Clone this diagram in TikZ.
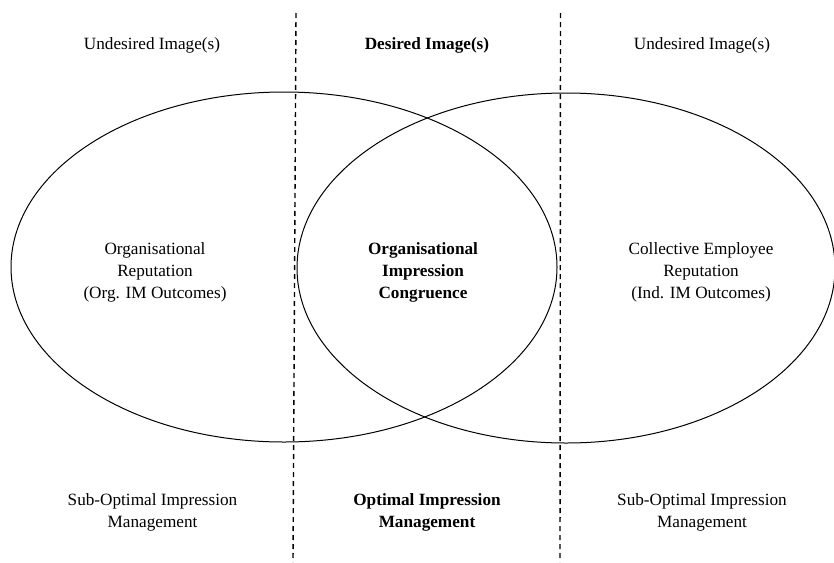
\documentclass[tikz,border=0pt]{standalone}
\usepackage{fontspec}
\setmainfont{Liberation Serif}
\begin{document}
\begin{tikzpicture}[x=1pt,y=-1pt,
  lbl/.style={align=center,font=\fontsize{17.2}{21.7}\selectfont,inner sep=0pt,anchor=base},
  blbl/.style={lbl,font=\fontsize{17.2}{21.7}\selectfont\bfseries},
  ell/.style={line width=1.0pt},
  divider/.style={line width=1.4pt,dash pattern=on 5pt off 4pt}]
\useasboundingbox (0,0) rectangle (834,562);
% ellipses
\draw[ell] (284,267) ellipse [x radius=273, y radius=175];
\draw[ell] (566,268) ellipse [x radius=269, y radius=175];
% dividers
\coordinate (d1t) at (296,13);
\coordinate (d1b) at (293,562);
\coordinate (d2t) at (560.5,13);
\coordinate (d2b) at (560,562);
\draw[divider] (d1t) -- (d1b);
\draw[divider] (d2t) -- (d2b);
% top labels
\node[lbl] (tl) at (152,49) {Undesired Image(s)};
\node[blbl] (tm) at (427,49) {Desired Image(s)};
\node[lbl] (tr) at (702,49) {Undesired Image(s)};
% middle labels (base = last line baseline)
\node[lbl] (ml) at (155,298) {Organisational\\Reputation\\(Org. IM Outcomes)};
\node[blbl] (mm) at (423,298) {Organisational\\Impression\\Congruence};
\node[lbl] (mr) at (701,298) {Collective Employee\\Reputation\\(Ind. IM Outcomes)};
% bottom labels
\node[lbl] (bl) at (152.5,527) {Sub-Optimal Impression\\Management};
\node[blbl] (bm) at (427,527) {Optimal Impression\\Management};
\node[lbl] (br) at (702,527) {Sub-Optimal Impression\\Management};
\end{tikzpicture}
\end{document}
